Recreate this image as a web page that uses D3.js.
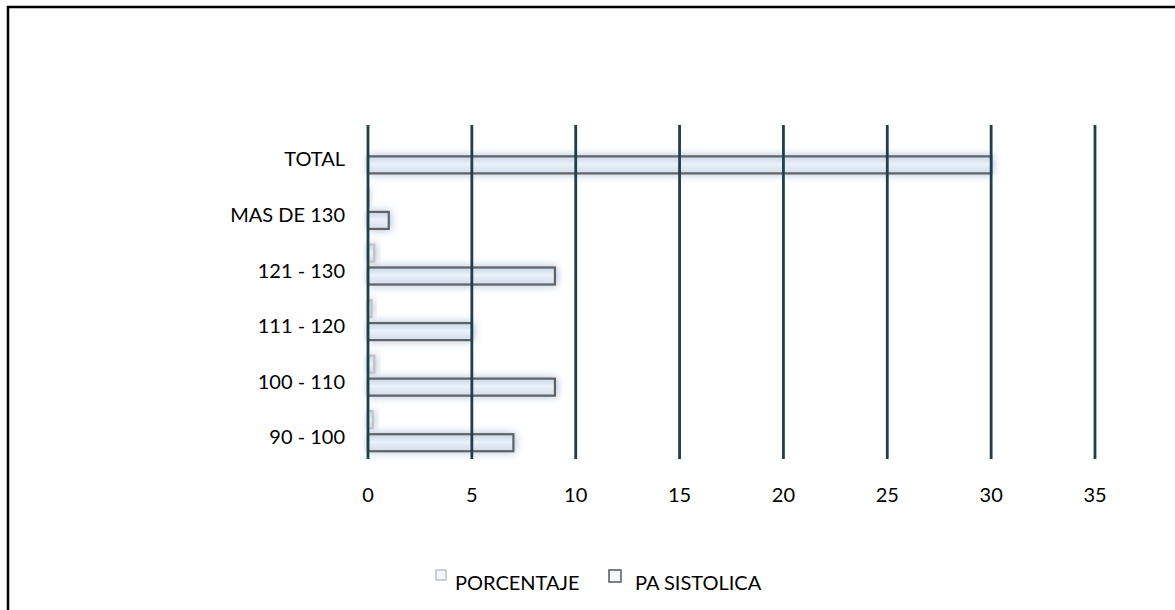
<!DOCTYPE html>
<html>
<head>
<meta charset="utf-8">
<script src="https://cdn.jsdelivr.net/npm/d3@7"></script>
<style>
  html, body { margin: 0; padding: 0; background: #fff; }
  svg { display: block; }
  text { font-family: Lato, "Noto Sans", sans-serif; fill: #000; }
</style>
</head>
<body>
<svg id="chart" width="1175" height="610"></svg>
<script>
// Blood pressure ranges (systolic), bottom to top
const categories = ["90 - 100", "100 - 110", "111 - 120", "121 - 130", "MAS DE 130", "TOTAL"];
// Count of patients per range
const paSistolica = [7, 9, 5, 9, 1, 30];
// Share of the total per range (TOTAL row has no value)
const porcentaje = [0.23, 0.3, 0.17, 0.3, 0.03, null];
const seriesNames = ["PORCENTAJE", "PA SISTOLICA"];
const xTicks = [0, 5, 10, 15, 20, 25, 30, 35];

const svg = d3.select("#chart");
const W = 1175, H = 610;

// outer frame
svg.append("rect")
  .attr("x", 8).attr("y", 7)
  .attr("width", W + 20).attr("height", H + 20)
  .attr("fill", "#fff").attr("stroke", "#000").attr("stroke-width", 2.5);

const defs = svg.append("defs");
const grad = defs.append("linearGradient").attr("id", "barFill")
  .attr("x1", 0).attr("y1", 0).attr("x2", 0).attr("y2", 1);
grad.append("stop").attr("offset", "0%").attr("stop-color", "#c9d8e9");
grad.append("stop").attr("offset", "45%").attr("stop-color", "#eaf0f7");
grad.append("stop").attr("offset", "100%").attr("stop-color", "#d2deec");

const glow = defs.append("filter").attr("id", "glow")
  .attr("x", "-50%").attr("y", "-80%").attr("width", "200%").attr("height", "260%");
glow.append("feGaussianBlur").attr("stdDeviation", 4);

const x = d3.scaleLinear().domain([0, 35]).range([368, 1095]);
const y0 = d3.scaleBand().domain(categories).range([459, 125.6]);
const bw = y0.bandwidth();
const y1 = d3.scaleBand().domain(seriesNames)
  .range([bw / 2 - 20, bw / 2 + 20]).paddingInner(0.26);

const rows = categories.map((c, i) => ({
  cat: c,
  vals: [
    { s: "PORCENTAJE", v: porcentaje[i] },
    { s: "PA SISTOLICA", v: paSistolica[i] }
  ].filter(d => d.v !== null)
}));

const strokeFor = { "PORCENTAJE": "#c3c3c3", "PA SISTOLICA": "#626262" };

const g = svg.append("g");
const rowG = g.selectAll("g.row").data(rows).join("g")
  .attr("class", "row")
  .attr("transform", d => `translate(0,${y0(d.cat)})`);

// soft glow behind each bar
rowG.selectAll("rect.glow").data(d => d.vals).join("rect")
  .attr("class", "glow")
  .attr("x", x(0))
  .attr("y", d => y1(d.s) - 1)
  .attr("width", d => Math.max(x(d.v) - x(0) + 2, 3))
  .attr("height", y1.bandwidth() + 2)
  .attr("fill", "#a7c0dd")
  .attr("filter", "url(#glow)");

rowG.selectAll("rect.bar").data(d => d.vals).join("rect")
  .attr("class", "bar")
  .attr("x", x(0))
  .attr("y", d => y1(d.s))
  .attr("width", d => Math.max(x(d.v) - x(0), 0.5))
  .attr("height", y1.bandwidth())
  .attr("fill", "url(#barFill)")
  .attr("stroke", d => strokeFor[d.s])
  .attr("stroke-width", 2.2);

// vertical gridlines over the bars
g.selectAll("line.grid").data(xTicks).join("line")
  .attr("class", "grid")
  .attr("x1", d => x(d)).attr("x2", d => x(d))
  .attr("y1", 125).attr("y2", 459)
  .attr("stroke", "#213f49").attr("stroke-width", 2.8);

// category labels
g.selectAll("text.cat").data(categories).join("text")
  .attr("class", "cat")
  .attr("x", 345)
  .attr("y", d => y0(d) + bw / 2 + 5)
  .attr("text-anchor", "end")
  .attr("dominant-baseline", "central")
  .attr("font-size", 20)
  .text(d => d);

// x tick labels
g.selectAll("text.tick").data(xTicks).join("text")
  .attr("class", "tick")
  .attr("x", d => x(d))
  .attr("y", 502)
  .attr("text-anchor", "middle")
  .attr("font-size", 20)
  .text(d => d3.format("d")(d));

// legend
const legend = svg.append("g");
const legendItems = [
  { name: "PORCENTAJE", bx: 436, size: 10, tx: 455 },
  { name: "PA SISTOLICA", bx: 609, size: 12, tx: 635 }
];
legend.selectAll("rect").data(legendItems).join("rect")
  .attr("x", d => d.bx).attr("y", 570)
  .attr("width", d => d.size).attr("height", d => d.size)
  .attr("fill", "#f4f7fb")
  .attr("stroke", d => strokeFor[d.name]).attr("stroke-width", 1.6);
legend.selectAll("text").data(legendItems).join("text")
  .attr("x", d => d.tx).attr("y", 590)
  .attr("font-size", 20)
  .text(d => d.name);
</script>
</body>
</html>
